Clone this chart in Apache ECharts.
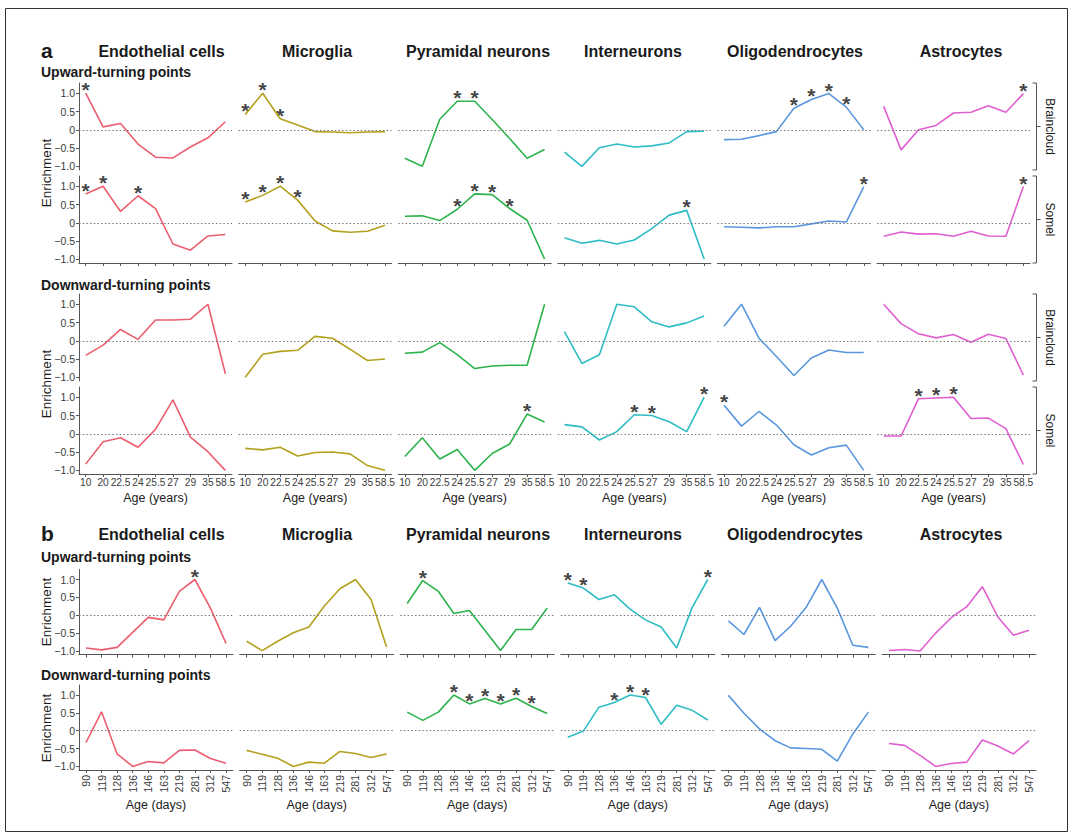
<!DOCTYPE html>
<html><head><meta charset="utf-8">
<script src="https://cdn.jsdelivr.net/npm/echarts@6.0.0/dist/echarts.min.js"></script>
<style>html,body{margin:0;padding:0;background:#fff}#chart{width:1076px;height:840px}</style>
</head><body><div id="chart"></div>
<script>
// ---------- data ----------
const cellTypes = ['Endothelial cells','Microglia','Pyramidal neurons','Interneurons','Oligodendrocytes','Astrocytes'];
const ageYears = ['10','20','22.5','24','25.5','27','29','35','58.5'];
const ageDays = ['90','119','128','136','146','163','219','281','312','547'];
const yTicks = [-1, -0.5, 0, 0.5, 1];
const stripLabels = ['Braincloud', 'Somel'];

// panel a, upward-turning points, Braincloud (one array per cell type)
const aUpBraincloud = [
  [1.0, 0.08, 0.17, -0.39, -0.75, -0.77, -0.47, -0.22, 0.22],
  [0.42, 1.0, 0.3, 0.13, -0.05, -0.06, -0.08, -0.06, -0.05],
  [-0.78, -1.0, 0.29, 0.78, 0.78, 0.28, -0.24, -0.78, -0.54],
  [-0.61, -1.0, -0.49, -0.39, -0.47, -0.44, -0.36, -0.05, -0.04],
  [-0.27, -0.26, -0.16, -0.05, 0.59, 0.83, 0.99, 0.62, 0.0],
  [0.64, -0.55, 0.0, 0.12, 0.46, 0.48, 0.66, 0.48, 0.99]
];
const aUpSomel = [
  [0.79, 1.0, 0.31, 0.74, 0.39, -0.58, -0.75, -0.36, -0.32],
  [0.57, 0.75, 1.0, 0.62, 0.05, -0.22, -0.26, -0.23, -0.07],
  [0.18, 0.19, 0.06, 0.37, 0.79, 0.77, 0.39, 0.07, -0.99],
  [-0.41, -0.56, -0.48, -0.58, -0.47, -0.16, 0.21, 0.34, -0.99],
  [-0.11, -0.12, -0.14, -0.11, -0.11, -0.03, 0.05, 0.02, 0.99],
  [-0.37, -0.25, -0.31, -0.30, -0.37, -0.23, -0.36, -0.37, 0.99]
];
const aDownBraincloud = [
  [-0.40, -0.12, 0.31, 0.04, 0.57, 0.57, 0.59, 1.0, -0.90],
  [-1.0, -0.37, -0.29, -0.26, 0.12, 0.07, -0.23, -0.54, -0.50],
  [-0.34, -0.31, -0.05, -0.38, -0.76, -0.69, -0.67, -0.67, 1.0],
  [0.25, -0.62, -0.38, 1.0, 0.93, 0.52, 0.38, 0.49, 0.68],
  [0.40, 1.0, 0.07, -0.43, -0.95, -0.47, -0.25, -0.32, -0.32],
  [1.0, 0.47, 0.19, 0.08, 0.17, -0.04, 0.18, 0.06, -0.94]
];
const aDownSomel = [
  [-0.83, -0.22, -0.11, -0.37, 0.12, 0.93, -0.09, -0.49, -1.0],
  [-0.40, -0.44, -0.37, -0.61, -0.51, -0.50, -0.55, -0.87, -1.0],
  [-0.62, -0.11, -0.69, -0.43, -1.0, -0.54, -0.28, 0.54, 0.32],
  [0.25, 0.19, -0.17, 0.06, 0.52, 0.50, 0.33, 0.06, 1.0],
  [0.78, 0.21, 0.61, 0.24, -0.30, -0.58, -0.38, -0.31, -1.0],
  [-0.06, -0.06, 0.96, 0.98, 1.0, 0.42, 0.43, 0.14, -0.84]
];
// panel b
const bUp = [
  [-0.92, -0.97, -0.90, -0.48, -0.06, -0.13, 0.67, 1.0, 0.20, -0.79],
  [-0.73, -0.99, -0.73, -0.49, -0.33, 0.26, 0.74, 1.0, 0.44, -0.89],
  [0.33, 0.97, 0.67, 0.05, 0.13, -0.43, -0.99, -0.40, -0.40, 0.20],
  [0.90, 0.76, 0.44, 0.57, 0.17, -0.13, -0.33, -0.92, 0.22, 1.0],
  [-0.16, -0.54, 0.22, -0.71, -0.31, 0.22, 1.0, 0.20, -0.84, -0.90],
  [-0.99, -0.96, -1.0, -0.50, -0.07, 0.24, 0.80, -0.05, -0.56, -0.42]
];
const bDown = [
  [-0.33, 0.53, -0.65, -1.0, -0.86, -0.90, -0.55, -0.54, -0.78, -0.91],
  [-0.55, -0.66, -0.77, -1.0, -0.88, -0.91, -0.58, -0.64, -0.75, -0.65],
  [0.52, 0.29, 0.52, 1.0, 0.75, 0.90, 0.75, 0.91, 0.68, 0.48],
  [-0.18, -0.01, 0.66, 0.79, 1.0, 0.93, 0.18, 0.71, 0.57, 0.30],
  [0.99, 0.49, 0.05, -0.28, -0.48, -0.50, -0.52, -0.85, -0.09, 0.52],
  [-0.36, -0.41, -0.69, -1.0, -0.92, -0.88, -0.26, -0.43, -0.65, -0.28]
];
// indices of points marked with a star (significant)
const aUpBraincloudStars = [[0], [0, 1, 2], [3, 4], [], [4, 5, 6, 7], [8]];
const aUpSomelStars = [[0, 1, 3], [0, 1, 2, 3], [3, 4, 5, 6], [7], [8], [8]];
const aDownBraincloudStars = [[], [], [], [], [], []];
const aDownSomelStars = [[], [], [7], [4, 5, 8], [0], [2, 3, 4]];
const bUpStars = [[7], [], [1], [0, 1, 9], [], []];
const bDownStars = [[], [], [3, 4, 5, 6, 7, 8], [3, 4, 5], [], []];

// ---------- styling / layout ----------
const FONT = "'Liberation Sans', Arial, Helvetica, sans-serif";
const colors = ['#EC5E6F', '#B5A01E', '#2DB34B', '#2EBDC4', '#5A97DE', '#E05ED0'];
const AXIS = '#555';
const colLeftA = [79, 238.6, 398.2, 557.8, 717.4, 877];
const colLeftB = [79, 239.6, 400.2, 560.8, 721.4, 882];
const widthA = 153, widthB = 154;
const padA = 0.38, padB = 0.45;
const yMin = -1.1, yMax = 1.28;

const rows = [
  {vals: aUpBraincloud, stars: aUpBraincloudStars, top: 83, h: 87, axis: false, labels: false, b: false},
  {vals: aUpSomel, stars: aUpSomelStars, top: 176, h: 87, axis: true, labels: false, b: false},
  {vals: aDownBraincloud, stars: aDownBraincloudStars, top: 294, h: 87, axis: false, labels: false, b: false},
  {vals: aDownSomel, stars: aDownSomelStars, top: 387, h: 87, axis: true, labels: true, b: false},
  {vals: bUp, stars: bUpStars, top: 569.5, h: 85, axis: true, labels: false, b: true},
  {vals: bDown, stars: bDownStars, top: 685, h: 85, axis: true, labels: true, b: true}
];

const fmtY = v => v === 0 ? '0' : (v < 0 ? '\u2212' : '') + Math.abs(v).toFixed(1);

const grid = [], xAxis = [], yAxis = [], series = [];
rows.forEach(row => {
  const cats = row.b ? ageDays : ageYears;
  const idx = cats.map((c, i) => i);
  const pad = row.b ? padB : padA;
  row.vals.forEach((vals, c) => {
    const g = grid.length;
    grid.push({left: (row.b ? colLeftB : colLeftA)[c], top: row.top, width: row.b ? widthB : widthA, height: row.h, containLabel: false, outerBoundsMode: 'none'});
    xAxis.push({
      gridIndex: g, type: 'value', min: -pad, max: cats.length - 1 + pad,
      axisLine: {show: row.axis, onZero: false, lineStyle: {color: AXIS, width: 1}},
      axisTick: {show: row.axis, length: 3, customValues: idx, lineStyle: {color: AXIS}},
      axisLabel: {show: row.labels, customValues: idx, formatter: v => cats[Math.round(v)],
        fontSize: row.b ? 10.5 : 10.2, color: '#3a3a3a', margin: row.b ? 5 : 3, rotate: row.b ? 90 : 0, fontFamily: FONT},
      splitLine: {show: false},
      name: row.labels ? (row.b ? 'Age (days)' : 'Age (years)') : '',
      nameLocation: 'middle', nameGap: row.b ? 28 : 17,
      nameTextStyle: {fontSize: 12.5, color: '#222', fontFamily: FONT}
    });
    yAxis.push({
      gridIndex: g, type: 'value', min: yMin, max: yMax,
      axisLine: {show: c === 0, onZero: false, lineStyle: {color: AXIS, width: 1}},
      axisTick: {show: c === 0, length: 3, customValues: yTicks, lineStyle: {color: AXIS}},
      axisLabel: {show: c === 0, customValues: yTicks, formatter: fmtY, fontSize: 10.5, color: '#3a3a3a', margin: 4, fontFamily: FONT},
      splitLine: {show: false}
    });
    series.push({
      type: 'line', xAxisIndex: g, yAxisIndex: g, silent: true, animation: false,
      data: vals.map((v, i) => [i, v]), showSymbol: false,
      lineStyle: {color: colors[c], width: 1.6}, itemStyle: {color: colors[c]},
      markLine: {silent: true, symbol: 'none', animation: false, label: {show: false},
        lineStyle: {color: '#777', type: [1.5, 2.2], width: 1}, data: [{yAxis: 0}]}
    });
    series.push({
      type: 'scatter', xAxisIndex: g, yAxisIndex: g, silent: true, animation: false,
      data: row.stars[c].map(i => [i, vals[i]]), symbolSize: 1,
      itemStyle: {color: 'rgba(0,0,0,0)'},
      label: {show: true, formatter: '*', position: 'inside', offset: [0, -3.5],
        fontSize: 21, fontWeight: 'bold', color: '#111', fontFamily: FONT}
    });
  });
});

// ---------- decorations / text ----------
const graphic = [];
graphic.push({type: 'rect', silent: true, shape: {x: 5.5, y: 8.5, width: 1062, height: 823},
  style: {fill: 'none', stroke: '#333', lineWidth: 1}});
const txt = (text, x, y, size, weight, opts) => Object.assign({
  type: 'text', x: x, y: y, silent: true,
  style: {text: text, fontSize: size, fontWeight: weight, fontFamily: FONT, fill: '#1a1a1a',
    align: (opts && opts.align) || 'center', verticalAlign: 'middle'}
}, opts && opts.rotation !== undefined ? {rotation: opts.rotation} : {});
graphic.push(txt('a', 41, 50, 21, 'bold', {align: 'left'}));
graphic.push(txt('b', 41, 533, 21, 'bold', {align: 'left'}));
const titleX = [161.5, 317, 478, 633, 795, 961];
cellTypes.forEach((t, i) => {
  graphic.push(txt(t, titleX[i], 51.5, 16, 'bold'));
  graphic.push(txt(t, titleX[i], 534, 16, 'bold'));
});
graphic.push(txt('Upward-turning points', 41, 72, 14, 'bold', {align: 'left'}));
graphic.push(txt('Downward-turning points', 41, 285, 14, 'bold', {align: 'left'}));
graphic.push(txt('Upward-turning points', 41, 557, 14, 'bold', {align: 'left'}));
graphic.push(txt('Downward-turning points', 41, 674.5, 14, 'bold', {align: 'left'}));
[173, 384, 612, 728].forEach(y => graphic.push(txt('Enrichment', 46, y, 13.5, 'normal', {rotation: Math.PI / 2})));
// strips (panel a)
[0, 1, 2, 3].forEach(r => {
  const T = rows[r].top, B = rows[r].top + rows[r].h, M = (T + B) / 2;
  graphic.push({type: 'polyline', silent: true, shape: {points: [[1032.5, T], [1036.5, T], [1036.5, B], [1032.5, B]]},
    style: {stroke: AXIS, lineWidth: 1, fill: 'none'}});
  graphic.push({type: 'line', silent: true, shape: {x1: 1036.5, y1: M, x2: 1040.5, y2: M},
    style: {stroke: AXIS, lineWidth: 1}});
  graphic.push(txt(stripLabels[r % 2], 1049.5, M, 12, 'normal', {rotation: -Math.PI / 2}));
});

const chart = echarts.init(document.getElementById('chart'), null, {renderer: 'svg'});
chart.setOption({animation: false, backgroundColor: '#fff', grid, xAxis, yAxis, series, graphic});
</script></body></html>
